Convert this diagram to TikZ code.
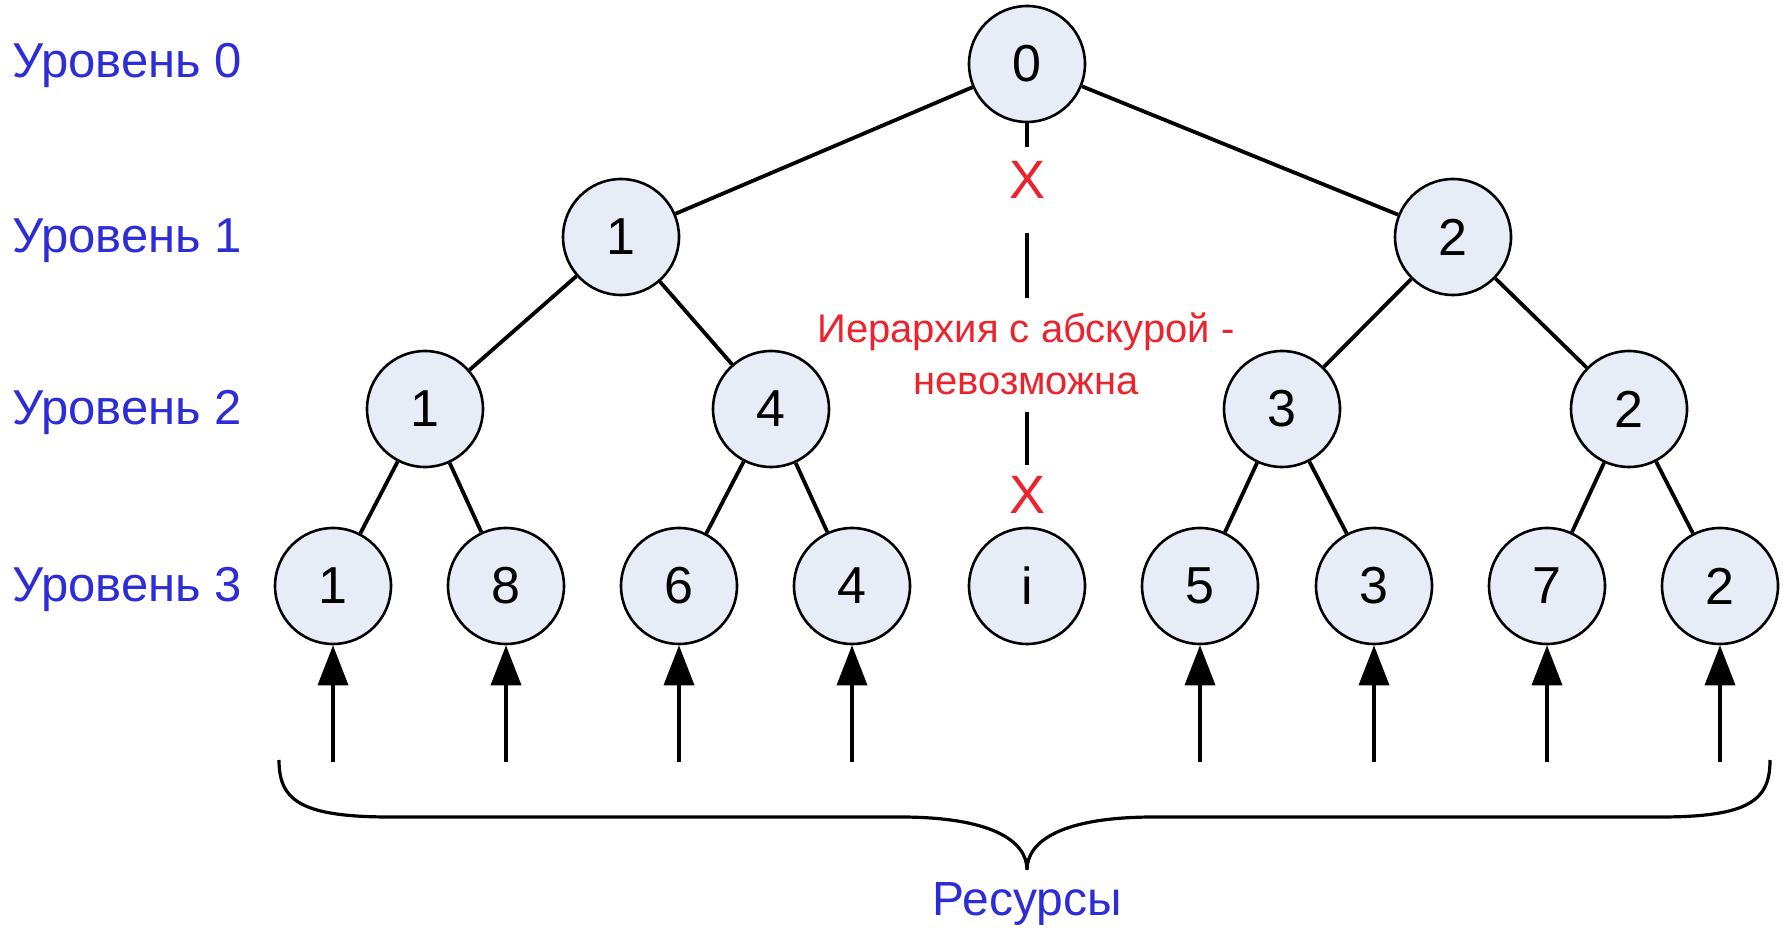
\documentclass[tikz,border=0pt]{standalone}
\usepackage{fontspec}
\setmainfont{Liberation Sans}
\usetikzlibrary{arrows.meta}
\definecolor{nodefill}{RGB}{232,236,246}
\definecolor{lblblue}{RGB}{45,45,215}
\definecolor{xred}{RGB}{235,35,45}
\begin{document}
\begin{tikzpicture}[x=0.5pt,y=-0.5pt,
  tnode/.style={circle,draw=black,line width=1.3pt,fill=nodefill,minimum size=58pt,inner sep=0pt,font=\fontsize{26}{30}\selectfont},
  edge/.style={line width=1.9pt},
  lvl/.style={anchor=base west,text=lblblue,font=\fontsize{24.5}{28}\selectfont,inner sep=0pt},
  resarrow/.style={line width=1.8pt,-{Triangle[length=20pt,width=15pt]}},
  cross/.style={text=xred,font=\fontsize{27}{30}\selectfont,inner sep=0pt},
  bracestyle/.style={line width=1.6pt}]
\fill[white] (0,0) rectangle (1783,929);
\useasboundingbox (0,0) rectangle (1783,929);
% level labels
\node[lvl] (lv0) at (12,78) {Уровень 0};
\node[lvl] (lv1) at (12,253) {Уровень 1};
\node[lvl] (lv2) at (12,425) {Уровень 2};
\node[lvl] (lv3) at (12,602) {Уровень 3};
% tree nodes
\node[tnode] (r) at (1027,64) {0};
\node[tnode] (a) at (621,237) {1};
\node[tnode] (b) at (1453,237) {2};
\node[tnode] (a1) at (425,409) {1};
\node[tnode] (a2) at (771,409) {4};
\node[tnode] (b1) at (1282,409) {3};
\node[tnode] (b2) at (1629,409) {2};
\node[tnode] (l1) at (333,586) {1};
\node[tnode] (l2) at (506,586) {8};
\node[tnode] (l3) at (679,586) {6};
\node[tnode] (l4) at (852,586) {4};
\node[tnode] (li) at (1027,586) {i};
\node[tnode] (l5) at (1200,586) {5};
\node[tnode] (l6) at (1374,586) {3};
\node[tnode] (l7) at (1547,586) {7};
\node[tnode] (l8) at (1720,586) {2};
% edges
\draw[edge] (r) -- (a);
\draw[edge] (r) -- (b);
\draw[edge] (a) -- (a1);
\draw[edge] (a) -- (a2);
\draw[edge] (b) -- (b1);
\draw[edge] (b) -- (b2);
\draw[edge] (a1) -- (l1);
\draw[edge] (a1) -- (l2);
\draw[edge] (a2) -- (l3);
\draw[edge] (a2) -- (l4);
\draw[edge] (b1) -- (l5);
\draw[edge] (b1) -- (l6);
\draw[edge] (b2) -- (l7);
\draw[edge] (b2) -- (l8);
% broken link
\coordinate (v1) at (1027,147);
\coordinate (v2) at (1027,233);
\coordinate (v3) at (1027,298);
\coordinate (v4) at (1027,412);
\coordinate (v5) at (1027,465);
\draw[edge] (r.south) -- (v1);
\draw[edge] (v2) -- (v3);
\draw[edge] (v4) -- (v5);
\node[cross] (x1) at (1027,180) {X};
\node[cross] (x2) at (1027,495) {X};
\node[text=xred,align=center,font=\fontsize{20}{26}\selectfont] (note) at (1026,354) {Иерархия с абскурой -\\невозможна};
% resource arrows
\foreach \n/\x in {l1/333,l2/506,l3/679,l4/852,l5/1200,l6/1374,l7/1547,l8/1720}{
  \coordinate (s\n) at (\x,762);
  \draw[resarrow] (s\n) -- (\n.south);
}
% brace
\draw[bracestyle] (279,760) .. controls (279,800) and (300,817) .. (390,817) -- (900,817)
  .. controls (990,817) and (1027,840) .. (1027,870)
  .. controls (1027,840) and (1064,817) .. (1154,817) -- (1660,817)
  .. controls (1750,817) and (1770,800) .. (1770,760);
\node[text=lblblue,font=\fontsize{24}{28}\selectfont] (res) at (1027,904) {Ресурсы};
\end{tikzpicture}
\end{document}
